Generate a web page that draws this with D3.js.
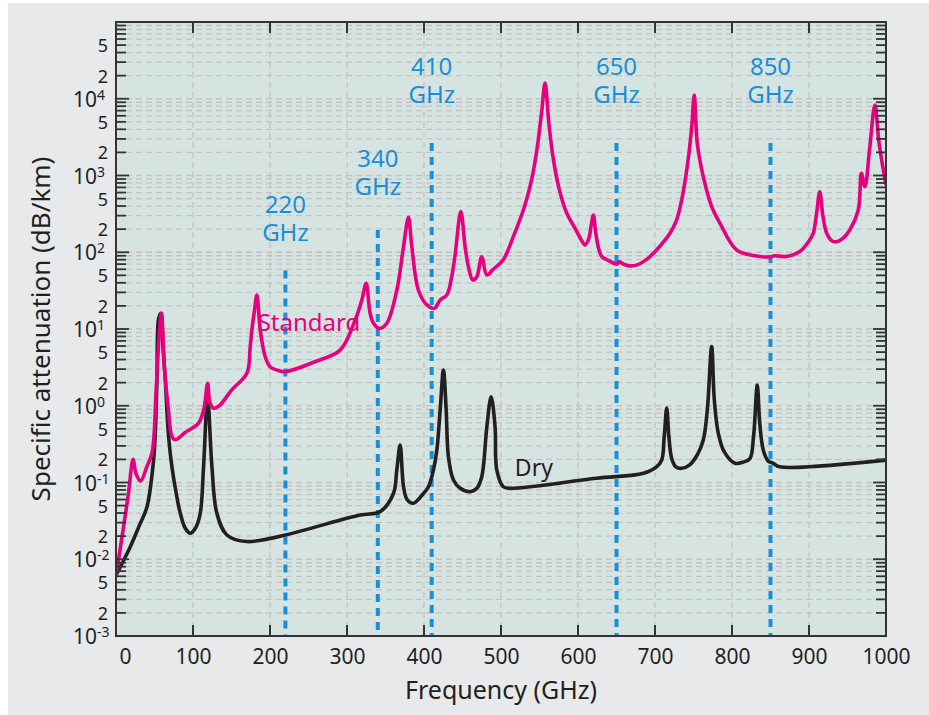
<!DOCTYPE html>
<html>
<head>
<meta charset="utf-8">
<script src="https://cdn.jsdelivr.net/npm/d3@7"></script>
<style>
  body { margin: 0; background: #fff; }
  text { font-family: "Noto Sans", "Open Sans", sans-serif; }
</style>
</head>
<body>
<div id="chart"></div>
<script>
// Specific attenuation vs frequency, standard atmosphere and dry air

const stdFreq = [0, 8, 16, 22.2, 26, 32, 40, 47, 52, 56, 59, 63, 68, 72.6, 77, 90, 107, 114, 119, 122, 126.7, 135, 150,
  170, 174.3, 176.5, 180, 183, 187.3, 193.8, 200.3, 210, 219.8, 260, 291, 310.6, 319.3, 324.9, 330, 334.4, 342, 351.7,
  364.7, 373.4, 379.8, 384.2, 392.8, 403.7, 413.6, 421, 429.6, 436, 440.4, 447.8, 453.4, 457.7, 463.4, 468.6, 475,
  481.6, 490, 503, 516, 530, 540, 547, 553, 557.2, 562, 567, 575, 585, 598, 605, 609, 614, 617, 620, 623, 627, 631,
  640, 650.3, 654, 657, 665, 676, 690, 702, 719.4, 728, 734.7, 743, 747.7, 751, 754.9, 762.7, 773.6, 784.4, 806, 830,
  850, 855, 870, 888, 900, 905.5, 910, 914, 918, 923, 930, 936, 945, 953, 964, 968, 972.6, 979, 985.6, 991, 1000];
const stdAtt = [0.0062, 0.02, 0.07, 0.2, 0.13, 0.105, 0.16, 0.25, 1.5, 8, 16, 3, 0.9, 0.4, 0.36, 0.45, 0.59, 0.9, 1.96,
  1.1, 0.93, 1.02, 1.6, 2.65, 5.9, 9.7, 18, 27.7, 9.7, 4.35, 3.2, 2.9, 2.78, 3.8, 5.3, 13.1, 23.9, 39.4, 16, 11.9,
  10.2, 11.9, 32, 118, 285, 118, 32, 20.6, 18.6, 23.9, 27.7, 48, 92, 338, 118, 65, 43.5, 48, 87.5, 50.6, 60, 80, 160,
  380, 900, 2300, 7000, 16000, 5000, 1900, 700, 330, 190, 140, 124, 150, 220, 305, 180, 110, 87.5, 78, 70, 75, 72, 67,
  68, 82, 107, 177, 263, 480, 1590, 4330, 11200, 2620, 966, 393, 238, 107, 90, 87, 90, 88, 102, 140, 177, 330, 615,
  300, 177, 140, 137, 155, 195, 355, 1070, 714, 2370, 8300, 2630, 752];

const dryFreq = [0, 18.6, 30, 40.2, 48.8, 51, 53.2, 55.3, 58.4, 61, 64, 68.3, 72.6, 79, 83.5, 90, 96.4, 103, 109.4,
  113.7, 118.9, 124.6, 131, 144, 170, 317, 343, 360.3, 364.7, 369, 373.4, 378, 386.3, 399.3, 405.8, 412.3, 416.7,
  421, 425.2, 428.8, 431.7, 438.2, 447, 459.9, 468.6, 475, 481.6, 487.2, 492.3, 494.5, 503, 511.8, 624, 685, 702,
  708.7, 712, 715.2, 718, 721.7, 727, 734.7, 745, 755, 762.7, 768, 773.6, 777, 782.2, 790, 803.9, 815, 823.4, 828,
  832.8, 836, 840.6, 847, 853.6, 862, 1000];
const dryAtt = [0.0062, 0.0146, 0.027, 0.048, 0.196, 0.44, 2.2, 13.5, 16, 6, 2.2, 0.395, 0.16, 0.065, 0.0397, 0.0253,
  0.0218, 0.0253, 0.0397, 0.16, 1.25, 0.16, 0.0397, 0.0207, 0.017, 0.0377, 0.0417, 0.072, 0.146, 0.308, 0.088, 0.06,
  0.0536, 0.072, 0.088, 0.146, 0.265, 0.88, 2.92, 0.88, 0.217, 0.108, 0.084, 0.0759, 0.084, 0.119, 0.53, 1.31, 0.53,
  0.146, 0.088, 0.084, 0.1135, 0.132, 0.16, 0.196, 0.4, 0.93, 0.4, 0.206, 0.16, 0.153, 0.17, 0.23, 0.358, 0.9, 5.9,
  1.2, 0.438, 0.25, 0.178, 0.185, 0.206, 0.4, 1.86, 0.6, 0.265, 0.19, 0.178, 0.16, 0.196];

// dashed frequency markers: frequency and top of the line (dB/km)
const markerFreq = [220, 340, 410, 650, 850];
const markerTop = [58, 195, 2650, 2650, 2650];

const xTicks = [0, 100, 200, 300, 400, 500, 600, 700, 800, 900, 1000];
const decades = [-3, -2, -1, 0, 1, 2, 3, 4];

const W = 929, H = 715;
const margin = { left: 116, top: 22, right: 43, bottom: 79 };
const iw = W - margin.left - margin.right;
const ih = H - margin.top - margin.bottom;

const svg = d3.select("#chart").append("svg")
  .attr("width", W)
  .attr("height", H);

// outer panel
svg.append("rect").attr("x", 8).attr("y", 3).attr("width", W - 8).attr("height", H - 3).attr("fill", "#e8e9eb");

const g = svg.append("g").attr("transform", `translate(${margin.left},${margin.top})`);

const x = d3.scaleLinear().domain([0, 1000]).range([0, iw]);
const y = d3.scaleLog().domain([1e-3, 1e5]).range([ih, 0]);

g.append("rect").attr("width", iw).attr("height", ih).attr("fill", "#d6e4e1");

// minor values 1..9 x 10^n
const minorVals = [];
decades.forEach(d => {
  for (let m = 1; m <= 9; m++) minorVals.push(m * Math.pow(10, d));
});
minorVals.push(1e5);

// grid
g.append("g")
  .selectAll("line")
  .data(minorVals.filter(v => v > 1e-3 && v < 1e5))
  .join("line")
  .attr("x1", 0).attr("x2", iw)
  .attr("y1", d => y(d)).attr("y2", d => y(d))
  .attr("stroke", "#c6c1c1")
  .attr("stroke-width", 1.3)
  .attr("stroke-dasharray", "6,4");

g.append("g")
  .selectAll("line")
  .data(xTicks.slice(1, -1))
  .join("line")
  .attr("x1", d => x(d)).attr("x2", d => x(d))
  .attr("y1", 0).attr("y2", ih)
  .attr("stroke", "#c6c1c1")
  .attr("stroke-width", 1.3)
  .attr("stroke-dasharray", "6,4");

const clip = svg.append("defs").append("clipPath").attr("id", "plotclip");
clip.append("rect").attr("width", iw).attr("height", ih);

// frequency markers
const blue = "#1a8fd6";
g.append("g")
  .selectAll("line")
  .data(markerFreq)
  .join("line")
  .attr("x1", d => x(d)).attr("x2", d => x(d))
  .attr("y1", (d, i) => y(markerTop[i]))
  .attr("y2", ih)
  .attr("stroke", blue)
  .attr("stroke-width", 4)
  .attr("stroke-dasharray", "8,6");

const labelGap = [29, 35, 40, 40, 40];
const mk = g.append("g").attr("fill", blue).attr("font-size", 24).attr("text-anchor", "middle");
markerFreq.forEach((f, i) => {
  const yb = y(markerTop[i]) - labelGap[i];
  mk.append("text").attr("x", x(f)).attr("y", yb - 28).text(f);
  mk.append("text").attr("x", x(f)).attr("y", yb).text("GHz");
});

// series labels (drawn below the curves)
g.append("text")
  .attr("x", x(184)).attr("y", y(9.5))
  .attr("fill", "#e6007e")
  .attr("font-size", 24)
  .text("Standard");

g.append("text")
  .attr("x", x(518)).attr("y", y(0.12))
  .attr("fill", "#231f20")
  .attr("font-size", 23)
  .text("Dry");

const line = d3.line()
  .x(d => x(d[0]))
  .y(d => y(d[1]))
  .curve(d3.curveCatmullRom.alpha(0.5));

const curves = g.append("g").attr("clip-path", "url(#plotclip)");

curves.append("path")
  .datum(dryFreq.map((f, i) => [f, dryAtt[i]]))
  .attr("d", line)
  .attr("fill", "none")
  .attr("stroke", "#231f20")
  .attr("stroke-width", 3.6)
  .attr("stroke-linejoin", "round");

curves.append("path")
  .datum(stdFreq.map((f, i) => [f, stdAtt[i]]))
  .attr("d", line)
  .attr("fill", "none")
  .attr("stroke", "#e6007e")
  .attr("stroke-width", 3.6)
  .attr("stroke-linejoin", "round");

// frame
g.append("rect")
  .attr("width", iw).attr("height", ih)
  .attr("fill", "none")
  .attr("stroke", "#333")
  .attr("stroke-width", 2);

// y ticks, both sides
const tickLen = v => (Math.abs(Math.log10(v) - Math.round(Math.log10(v))) < 1e-9 ? 13 : 10);
g.append("g")
  .selectAll("line")
  .data(minorVals)
  .join("line")
  .attr("x1", 0).attr("x2", d => tickLen(d))
  .attr("y1", d => y(d)).attr("y2", d => y(d))
  .attr("stroke", "#333").attr("stroke-width", 1.8);

g.append("g")
  .selectAll("line")
  .data(minorVals)
  .join("line")
  .attr("x1", iw).attr("x2", d => iw - tickLen(d))
  .attr("y1", d => y(d)).attr("y2", d => y(d))
  .attr("stroke", "#333").attr("stroke-width", 1.8);

// x ticks top and bottom
const xAxis = g.append("g").attr("transform", `translate(0,${ih})`)
  .call(d3.axisBottom(x).tickValues(xTicks).tickSize(0).tickPadding(13).tickFormat(d3.format("d")));
xAxis.select(".domain").remove();
xAxis.selectAll("text")
  .attr("font-size", 21)
  .attr("fill", "#231f20")
  .attr("font-family", "'Noto Sans', sans-serif")
  .attr("dx", d => (d === 0 ? 9 : 0));

g.append("g")
  .selectAll("line")
  .data(xTicks.slice(1, -1))
  .join("line")
  .attr("x1", d => x(d)).attr("x2", d => x(d))
  .attr("y1", ih).attr("y2", ih - 11)
  .attr("stroke", "#333").attr("stroke-width", 2);

g.append("g")
  .selectAll("line")
  .data(xTicks.slice(1, -1))
  .join("line")
  .attr("x1", d => x(d)).attr("x2", d => x(d))
  .attr("y1", 0).attr("y2", 11)
  .attr("stroke", "#333").attr("stroke-width", 2);

// y tick labels
const yl = g.append("g").attr("fill", "#231f20");
decades.forEach(d => {
  const v = Math.pow(10, d);
  yl.append("text")
    .attr("x", -19).attr("y", y(v) + 8)
    .attr("text-anchor", "end")
    .attr("font-size", 21)
    .text("10");
  yl.append("text")
    .attr("x", -19).attr("y", y(v) + 1)
    .attr("font-size", 14)
    .text(d);
  [2, 5].forEach(m => {
    yl.append("text")
      .attr("x", -8).attr("y", y(m * v) + 7)
      .attr("text-anchor", "end")
      .attr("font-size", 18)
      .text(m);
  });
});

// axis titles
svg.append("text")
  .attr("x", margin.left + iw / 2)
  .attr("y", 699)
  .attr("text-anchor", "middle")
  .attr("font-size", 25)
  .attr("fill", "#231f20")
  .text("Frequency (GHz)");

svg.append("text")
  .attr("transform", `translate(50,${margin.top + ih / 2}) rotate(-90)`)
  .attr("text-anchor", "middle")
  .attr("font-size", 26)
  .attr("fill", "#231f20")
  .text("Specific attenuation (dB/km)");
</script>
</body>
</html>
